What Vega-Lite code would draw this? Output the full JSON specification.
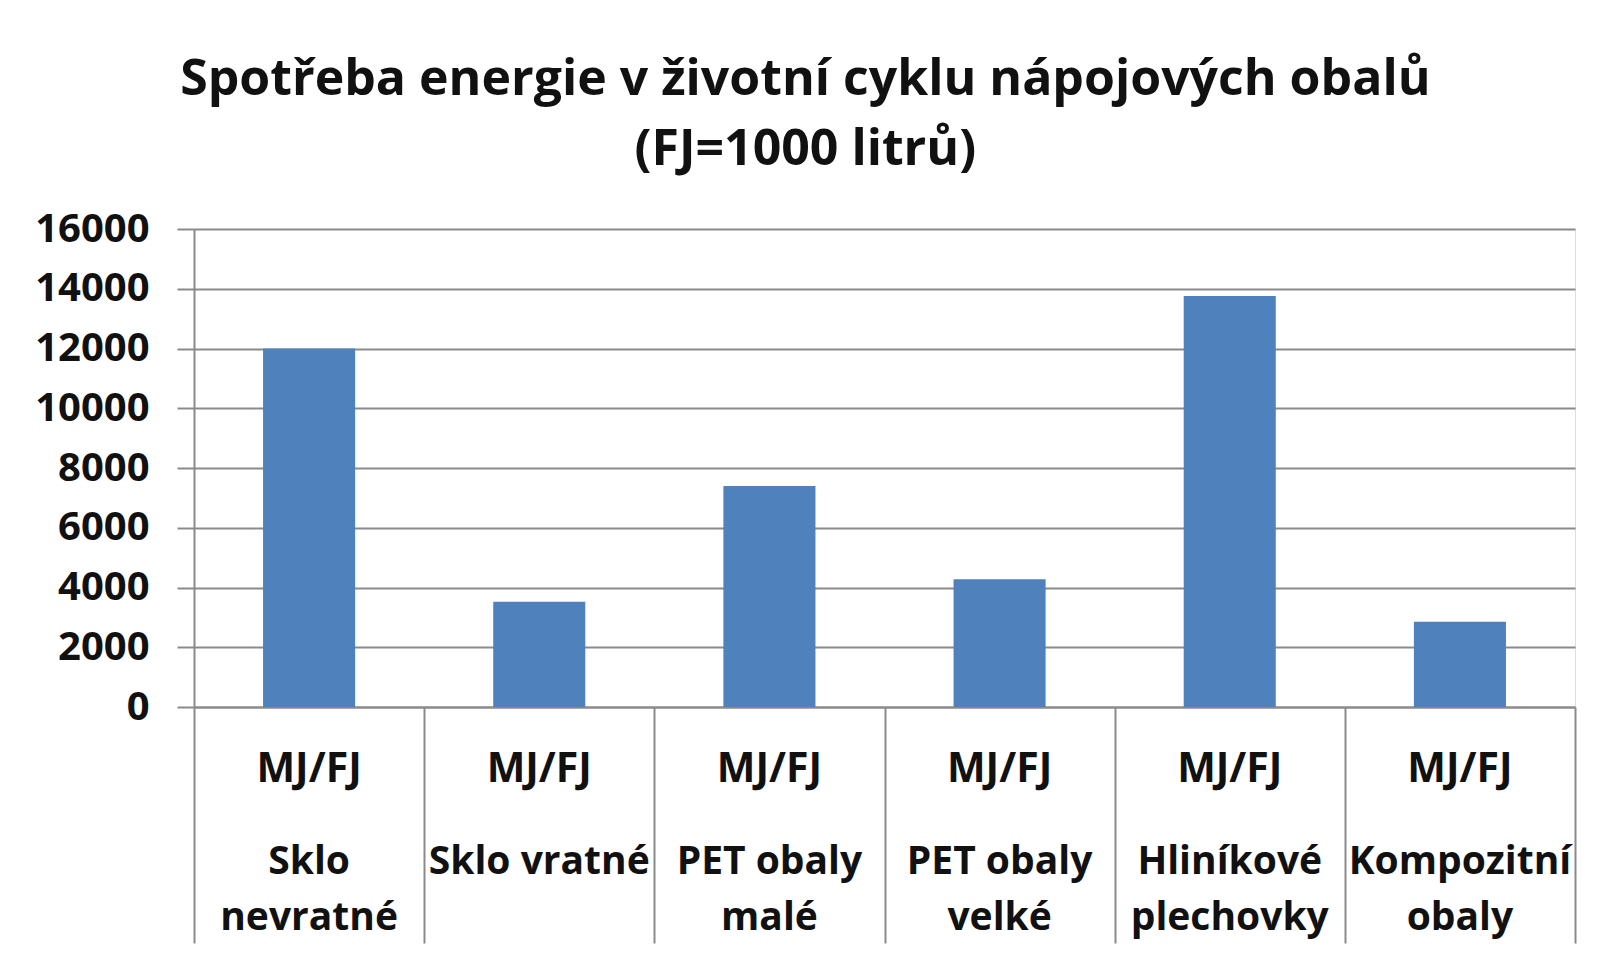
{
  "$schema": "https://vega.github.io/schema/vega-lite/v6.json",
  "width": 1381,
  "height": 478,
  "autosize": {"type": "none"},
  "padding": {"left": 194, "top": 229, "right": 33, "bottom": 251},
  "background": "white",
  "title": {
    "text": ["Spotřeba energie v životní cyklu nápojových obalů", "(FJ=1000 litrů)"],
    "font": "Open Sans",
    "fontSize": 50,
    "fontWeight": "bold",
    "color": "#111111",
    "lineHeight": 70,
    "anchor": "middle",
    "frame": "bounds",
    "offset": 34
  },
  "data": {
    "values": [
      {"obal": "Sklo nevratné", "jednotka": "MJ/FJ", "spotreba": 12000},
      {"obal": "Sklo vratné", "jednotka": "MJ/FJ", "spotreba": 3520},
      {"obal": "PET obaly malé", "jednotka": "MJ/FJ", "spotreba": 7400},
      {"obal": "PET obaly velké", "jednotka": "MJ/FJ", "spotreba": 4280},
      {"obal": "Hliníkové plechovky", "jednotka": "MJ/FJ", "spotreba": 13760},
      {"obal": "Kompozitní obaly", "jednotka": "MJ/FJ", "spotreba": 2850}
    ]
  },
  "encoding": {
    "y": {
      "field": "spotreba",
      "type": "quantitative",
      "scale": {"domain": [0, 16000], "nice": false},
      "axis": {
        "title": null,
        "values": [0, 2000, 4000, 6000, 8000, 10000, 12000, 14000, 16000],
        "format": "d",
        "grid": true,
        "gridColor": "#8a8a8a",
        "gridWidth": 2,
        "domain": true,
        "domainColor": "#8a8a8a",
        "domainWidth": 2,
        "ticks": true,
        "tickSize": 17,
        "tickColor": "#8a8a8a",
        "tickWidth": 2,
        "labelPadding": 28,
        "labelFont": "Open Sans",
        "labelFontSize": 40,
        "labelFontWeight": "bold",
        "labelColor": "#111111"
      }
    }
  },
  "layer": [
    {
      "mark": {"type": "bar", "color": "#4F81BD", "width": {"band": 0.4}},
      "encoding": {
        "x": {
          "field": "obal",
          "type": "nominal",
          "sort": null,
          "scale": {"paddingInner": 0, "paddingOuter": 0},
          "axis": {
            "orient": "bottom",
            "title": null,
            "domain": true,
            "domainColor": "#8a8a8a",
            "domainWidth": 2,
            "ticks": true,
            "tickBand": "extent",
            "tickSize": 236,
            "tickColor": "#8a8a8a",
            "tickWidth": 2,
            "labels": false
          }
        }
      }
    },
    {
      "mark": {"type": "bar", "opacity": 0, "width": {"band": 0.4}},
      "encoding": {
        "x": {
          "field": "obal",
          "type": "nominal",
          "sort": null,
          "scale": {"paddingInner": 0, "paddingOuter": 0},
          "axis": {
            "orient": "bottom",
            "title": null,
            "domain": false,
            "ticks": false,
            "labelExpr": "'MJ/FJ'",
            "labelAngle": 0,
            "labelPadding": 42,
            "labelBaseline": "top",
            "labelLimit": 0,
            "labelFont": "Open Sans",
            "labelFontSize": 41,
            "labelFontWeight": "bold",
            "labelColor": "#111111"
          }
        }
      }
    },
    {
      "mark": {"type": "bar", "opacity": 0, "width": {"band": 0.4}},
      "encoding": {
        "x": {
          "field": "obal",
          "type": "nominal",
          "sort": null,
          "scale": {"paddingInner": 0, "paddingOuter": 0},
          "axis": {
            "orient": "bottom",
            "title": null,
            "domain": false,
            "ticks": false,
            "labelExpr": "datum.value == 'Sklo vratné' ? datum.value : [slice(datum.value, 0, lastindexof(datum.value, ' ')), slice(datum.value, lastindexof(datum.value, ' ') + 1)]",
            "labelAngle": 0,
            "labelPadding": 135,
            "labelBaseline": "top",
            "labelLineHeight": 56,
            "labelLimit": 0,
            "labelFont": "Open Sans",
            "labelFontSize": 39,
            "labelFontWeight": "bold",
            "labelColor": "#111111"
          }
        }
      }
    }
  ],
  "resolve": {"axis": {"x": "independent"}}
}
